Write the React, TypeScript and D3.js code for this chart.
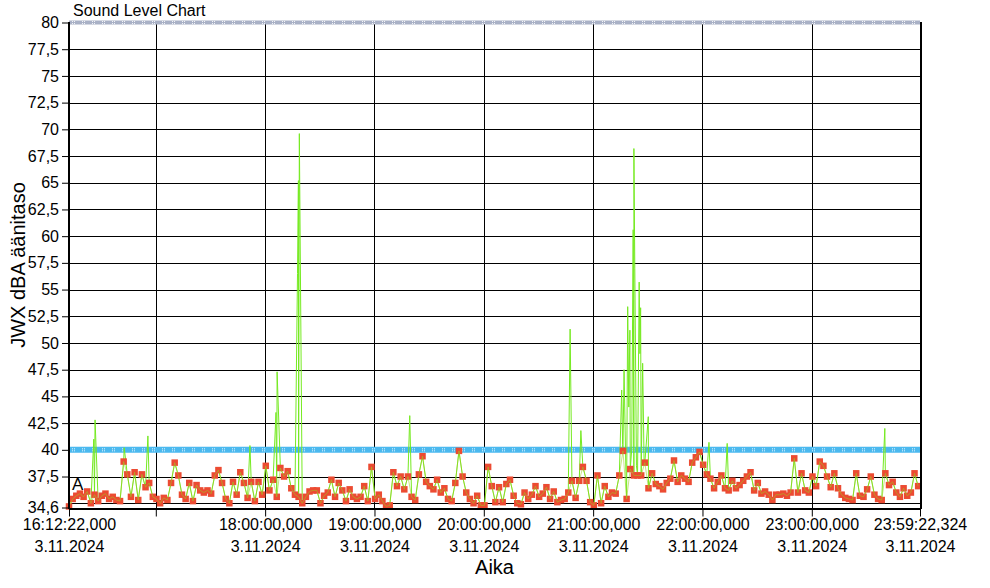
import React, { useEffect, useRef } from 'react';
import * as d3 from 'd3';

const chartTitle = 'Sound Level Chart';
const xAxisTitle = 'Aika';
const yAxisTitle = 'JWX dBA äänitaso';
const dateLabel = '3.11.2024';
const seriesLabel = 'A';

const startTime = new Date(2024, 10, 3, 16, 12, 22, 0);
const endTime = new Date(2024, 10, 3, 23, 59, 22, 324);
const gridHours = [17, 18, 19, 20, 21, 22, 23];
const labelledHours = [18, 19, 20, 21, 22, 23];

const yTickValues = [34.6, 37.5, 40, 42.5, 45, 47.5, 50, 52.5, 55, 57.5, 60, 62.5, 65, 67.5, 70, 72.5, 75, 77.5, 80];
const yGridValues = [35, 37.5, 40, 42.5, 45, 47.5, 50, 52.5, 55, 57.5, 60, 62.5, 65, 67.5, 70, 72.5, 75, 77.5];
const limitLevel = 40;
const topLevel = 80;

// averaged level, one value every 2 minutes from the start time
const markerStepMinutes = 2;
const levelValues = [
  34.7, 35.4, 35.7, 35.9, 35.6, 36.1, 35.0, 35.8, 35.2, 35.7, 35.9, 35.4, 35.6, 35.3, 35.2, 38.9, 37.7, 35.6, 37.9, 35.3, 37.7, 36.5, 36.9, 35.6,
  35.4, 35.0, 35.5, 35.3, 36.9, 38.8, 37.6, 35.8, 35.4, 36.9, 35.2, 36.7, 36.2, 36.0, 36.2, 35.9, 37.6, 38.1, 36.9, 35.4, 35.0, 37.0, 35.8, 37.9, 36.9, 35.5, 37.0, 35.2, 37.0, 35.8,
  38.5, 36.2, 37.2, 35.6, 38.3, 37.5, 38.0, 36.4, 35.8, 35.6, 35.0, 35.6, 36.1, 36.2, 36.2, 35.0, 35.7, 36.0, 37.2, 35.6, 36.9, 36.2, 35.2, 36.3, 35.6, 35.4, 35.6, 36.6, 35.2, 38.4,
  35.4, 35.8, 35.2, 34.7, 34.8, 37.9, 36.6, 37.5, 36.3, 37.5, 35.6, 35.3, 37.7, 39.4, 37.0, 36.6, 36.3, 37.2, 36.0, 36.4, 35.4, 35.2, 36.9, 39.9, 37.5, 36.0, 35.4, 35.0, 35.7, 34.8,
  34.8, 38.4, 36.6, 35.1, 36.5, 35.1, 36.8, 37.2, 35.7, 35.0, 34.9, 36.0, 35.4, 35.8, 36.6, 35.6, 35.9, 36.5, 35.4, 36.1, 35.1, 35.3, 35.4, 36.0, 37.1, 35.5, 37.1, 38.4, 37.1, 35.1,
  34.8, 37.6, 35.0, 36.6, 35.6, 36.0, 35.9, 37.6, 39.9, 35.4, 38.2, 37.6, 37.6, 37.6, 38.8, 36.4, 37.8, 36.8, 36.6, 36.3, 36.9, 37.3, 39.0, 37.0, 37.6, 37.3, 37.0, 38.8, 39.3, 39.8,
  38.6, 37.7, 37.3, 36.4, 37.0, 37.6, 36.4, 36.2, 37.1, 36.4, 36.7, 37.1, 37.5, 37.9, 36.2, 36.9, 35.9, 36.1, 35.8, 35.3, 35.8, 35.8, 35.9, 35.7, 36.0, 39.2, 36.0, 37.8, 36.2, 36.0,
  37.5, 36.6, 38.9, 38.5, 37.5, 36.5, 37.8, 36.4, 35.8, 35.5, 35.4, 35.3, 37.8, 35.7, 35.6, 36.3, 37.5, 35.8, 35.4, 35.3, 37.8, 36.7, 37.0, 36.0, 35.6, 36.4, 35.7, 36.0, 37.8, 36.6,
];

// short peaks between the averaged points: [minutes from start, dB]
const peakPoints: [number, number][] = [
  [13.6, 41.0], [14.3, 42.8], [30.3, 40.2], [43.3, 41.3], [99.3, 40.4],
  [113.6, 43.5], [114.2, 47.3], [125.4, 56.5], [125.9, 65.2], [126.4, 69.6],
  [187.0, 43.2], [275.0, 51.3], [280.9, 41.8],
  [303.3, 45.6], [303.8, 40.5], [304.6, 47.5], [305.6, 38.0], [306.6, 53.4], [307.2, 44.0],
  [307.8, 51.2], [308.8, 40.0], [309.6, 60.6], [310.0, 68.2], [310.5, 57.0], [311.4, 38.5],
  [312.9, 55.7], [313.3, 49.0], [313.7, 53.3], [314.8, 48.1], [315.6, 38.8], [317.9, 43.1],
  [351.2, 40.7], [361.2, 40.6], [447.7, 42.0],
];

interface LevelPoint {
  time: Date;
  value: number;
}

const width = 990;
const height = 588;
const plot = { left: 69, right: 920, top: 22.5, bottom: 507.5 };
const font = '"Liberation Sans", Arial, sans-serif';

const minutesToDate = (m: number) => new Date(startTime.getTime() + m * 60000);
const formatTime = d3.timeFormat('%H:%M:%S,%L');
const formatLevel = (v: number) => String(v).replace('.', ',');

export default function App() {
  const svgRef = useRef<SVGSVGElement>(null);

  useEffect(() => {
    if (!svgRef.current) return;
    const svg = d3.select(svgRef.current);
    svg.selectAll('*').remove();

    const xScale = d3.scaleTime().domain([startTime, endTime]).range([plot.left, plot.right]);
    const yScale = d3.scaleLinear().domain([34.6, topLevel]).range([plot.bottom, plot.top]);

    const markers: LevelPoint[] = levelValues.map((v, i) => ({ time: minutesToDate(i * markerStepMinutes), value: v }));
    const peaks: LevelPoint[] = peakPoints.map(([m, v]) => ({ time: minutesToDate(m), value: v }));
    const linePoints = [...markers, ...peaks].sort((a, b) => a.time.getTime() - b.time.getTime());

    svg.append('rect').attr('width', width).attr('height', height).attr('fill', '#fff');

    // grid
    const grid = svg.append('g').attr('stroke', '#000').attr('stroke-width', 1).attr('shape-rendering', 'crispEdges');
    yGridValues.forEach(v => {
      const y = Math.round(yScale(v)) + 0.5;
      grid.append('line').attr('x1', plot.left).attr('x2', plot.right).attr('y1', y).attr('y2', y);
    });
    gridHours.forEach(h => {
      const x = Math.round(xScale(new Date(2024, 10, 3, h, 0, 0))) + 0.5;
      grid.append('line').attr('x1', x).attr('x2', x).attr('y1', plot.top).attr('y2', plot.bottom);
    });

    // dotted limit bands
    const band = (v: number, color: string, w: number) => {
      const y = yScale(v);
      svg.append('line')
        .attr('x1', plot.left).attr('x2', plot.right).attr('y1', y).attr('y2', y)
        .attr('stroke', color).attr('stroke-width', w);
      [-1, 1].forEach(off => {
        svg.append('line')
          .attr('x1', plot.left + 3).attr('x2', plot.right).attr('y1', y + off).attr('y2', y + off)
          .attr('stroke', '#fff').attr('stroke-width', 1).attr('opacity', 0.85)
          .attr('stroke-dasharray', '1 1 1 7');
      });
    };
    band(limitLevel, '#4bb9ef', 6);
    band(topLevel, '#a9b1c6', 4);

    // level line and markers
    const line = d3.line<LevelPoint>().x(d => xScale(d.time)).y(d => yScale(d.value));
    svg.append('path')
      .datum(linePoints)
      .attr('fill', 'none')
      .attr('stroke', '#76ea22')
      .attr('stroke-width', 1)
      .attr('d', line);

    svg.append('g')
      .selectAll('rect')
      .data(markers)
      .join('rect')
      .attr('x', d => xScale(d.time) - 3.25)
      .attr('y', d => yScale(d.value) - 3.25)
      .attr('width', 6.5)
      .attr('height', 6.5)
      .attr('fill', '#ec4b32');

    // the line shows faintly across the markers
    svg.append('path')
      .datum(markers)
      .attr('fill', 'none')
      .attr('stroke', '#9ccc20')
      .attr('stroke-width', 1)
      .attr('opacity', 0.55)
      .attr('d', line);

    // frame
    const frame = svg.append('g').attr('stroke', '#000').attr('stroke-width', 2).attr('shape-rendering', 'crispEdges');
    frame.append('line').attr('x1', plot.left).attr('x2', plot.left).attr('y1', plot.top - 1).attr('y2', plot.bottom + 1);
    frame.append('line').attr('x1', plot.left).attr('x2', plot.right + 1).attr('y1', plot.bottom + 1).attr('y2', plot.bottom + 1);
    frame.append('line').attr('x1', plot.right + 1).attr('x2', plot.right + 1).attr('y1', plot.top - 1).attr('y2', plot.bottom + 1);

    // y axis
    const yAxis = d3.axisLeft(yScale).tickValues(yTickValues).tickFormat(d => formatLevel(d as number)).tickSize(7).tickPadding(3);
    const yg = svg.append('g').attr('transform', `translate(${plot.left},0)`).call(yAxis);
    yg.select('.domain').remove();
    yg.selectAll('text').attr('font-family', font).attr('font-size', 16).attr('fill', '#000');

    // x axis
    const xTicks = [startTime, ...gridHours.map(h => new Date(2024, 10, 3, h, 0, 0)), endTime];
    const xAxis = d3.axisBottom(xScale).tickValues(xTicks).tickFormat(() => '').tickSize(8);
    const xg = svg.append('g').attr('transform', `translate(0,${plot.bottom + 1})`).call(xAxis);
    xg.select('.domain').remove();
    xg.selectAll<SVGGElement, Date>('.tick').each(function (d) {
      const labelled = d === startTime || d === endTime || labelledHours.includes(d.getHours()) && d.getMinutes() === 0;
      if (!labelled) return;
      const t = d3.select(this).select('text').attr('dy', null).attr('y', 21)
        .attr('font-family', font).attr('font-size', 16).attr('fill', '#000');
      t.append('tspan').attr('x', 0).text(formatTime(d));
      t.append('tspan').attr('x', 0).attr('dy', 22).text(dateLabel);
    });

    // titles
    svg.append('text').attr('x', 73).attr('y', 16).attr('font-family', font).attr('font-size', 16).text(chartTitle);
    svg.append('text').attr('x', 72).attr('y', 490).attr('font-family', font).attr('font-size', 17).text(seriesLabel);
    svg.append('text')
      .attr('x', (plot.left + plot.right) / 2).attr('y', 574)
      .attr('text-anchor', 'middle').attr('font-family', font).attr('font-size', 20)
      .text(xAxisTitle);
    svg.append('text')
      .attr('transform', `translate(25,${(plot.top + plot.bottom) / 2}) rotate(-90)`)
      .attr('text-anchor', 'middle').attr('font-family', font).attr('font-size', 20)
      .text(yAxisTitle);
  }, []);

  return (
    <svg
      ref={svgRef}
      width={width}
      height={height}
      style={{ position: 'absolute', left: 0, top: 0 }}
      role="img"
      aria-label="Sound level chart"
    />
  );
}
